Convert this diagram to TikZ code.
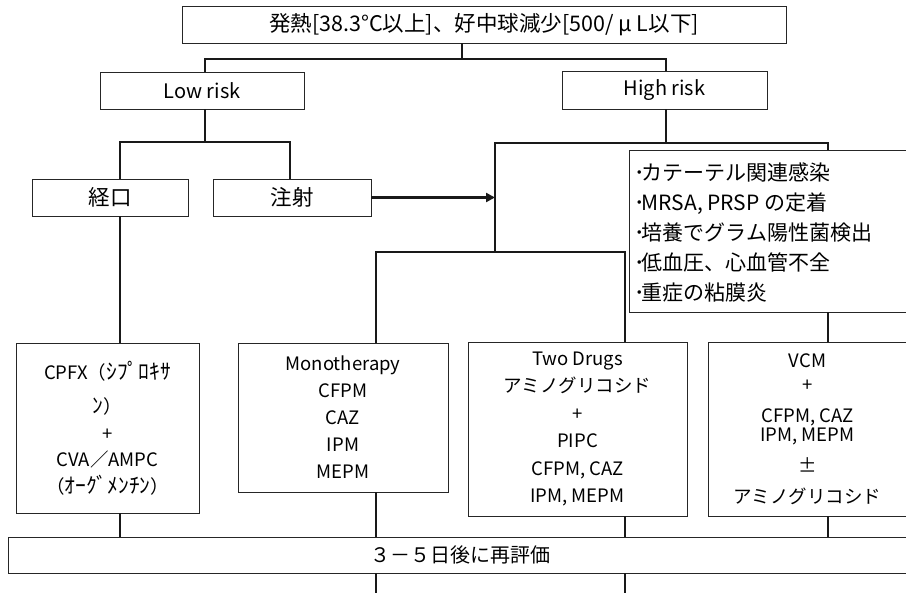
\documentclass[tikz,border=0pt]{standalone}
\usepackage{fontspec}
\setmainfont{Noto Sans CJK JP}
\usetikzlibrary{arrows.meta}
\newcommand{\hkana}[1]{{\fontsize{21.5}{26}\selectfont #1}}
\begin{document}
\begin{tikzpicture}[x=1pt,y=-1pt,
  box/.style={draw=black!85,line width=0.9pt,fill=white,inner sep=0pt,align=center},
  conn/.style={line width=2.8pt,black!90},
  arr/.style={line width=3pt,black!90,-{Triangle[length=9pt,width=9pt]}},
  big/.style={font=\fontsize{21.5}{26}\selectfont},
  mid/.style={font=\fontsize{20}{26}\selectfont},
  small/.style={font=\fontsize{18.5}{26.5}\selectfont}]
\useasboundingbox (0,0) rectangle (906,593);
% boxes
\node[box,big,minimum width=604pt,minimum height=37pt] (top) at (484,24.5) {発熱[38.3°C以上]、好中球減少[500/ μ L以下]};
\node[box,mid,minimum width=204pt,minimum height=37pt] (low) at (202,90.5) {Low risk};
\node[box,mid,minimum width=205pt,minimum height=38pt] (high) at (664.5,90) {High risk};
\node[box,big,minimum width=156pt,minimum height=37pt] (oral) at (110,197.5) {経口};
\node[box,big,minimum width=158pt,minimum height=37pt] (inj) at (292,197.5) {注射};
\node[box,minimum width=280pt,minimum height=162pt] (info) at (769,231) {};
\node[anchor=west,align=left,inner sep=0pt,font=\fontsize{21}{30}\selectfont] (infotext) at (634,232)
 {･\kern-3pt カテーテル関連感染\\･\kern-3pt MRSA, PRSP の定着\\･\kern-3pt 培養でグラム陽性菌検出\\･\kern-3pt 低血圧、心血管不全\\･\kern-3pt 重症の粘膜炎};
\node[box,small,minimum width=183pt,minimum height=170pt] (cpfx) at (107.5,428)
 {CPFX（\hkana{ｼﾌﾟﾛｷｻ}\\[8pt]\hkana{ﾝ}）\\+\\CVA／AMPC\\（\hkana{ｵｰｸﾞﾒﾝﾁﾝ}）};
\node[box,small,minimum width=210pt,minimum height=149pt,font=\fontsize{18.5}{27}\selectfont] (mono) at (343,417.5)
 {Monotherapy\\CFPM\\CAZ\\IPM\\MEPM};
\node[box,small,minimum width=219pt,minimum height=174pt,font=\fontsize{18.5}{27.5}\selectfont] (two) at (577.5,429)
 {Two Drugs\\アミノグリコシド\\+\\PIPC\\CFPM, CAZ\\IPM, MEPM};
\node[box,small,minimum width=199pt,minimum height=174pt] (vcm) at (807.5,429)
 {VCM\\[-3pt]+\\[5pt]CFPM, CAZ\\[-8pt]IPM, MEPM\\[5pt]±\\[4pt]アミノグリコシド};
\node[box,minimum width=900pt,minimum height=36pt] (reeval) at (458,555) {};
\node[mid,inner sep=0pt] (reevaltext) at (460,555) {３－５日後に再評価};
% junctions
\coordinate (j1) at (462,59);
\coordinate (j1l) at (205,59);
\coordinate (j1r) at (666,59);
\coordinate (j2) at (205,142);
\coordinate (j2l) at (120,142);
\coordinate (j2r) at (290,142);
\coordinate (j3) at (666,143);
\coordinate (j3r) at (828,143);
\coordinate (j4) at (495,252);
\coordinate (j5l) at (376,252);
\coordinate (j5r) at (625,252);
\coordinate (e1) at (376,593);
\coordinate (e2) at (625,593);
% connectors
\draw[conn] (top.south -| j1) -- (j1);
\draw[conn] (low.north -| j1l) |- (j1r) -- (high.north -| j1r);
\draw[conn] (low.south -| j2) -- (j2);
\draw[conn] (oral.north -| j2l) |- (j2r) -- (inj.north -| j2r);
\draw[conn] (high.south -| j3) -- (j3);
\draw[conn] (j4) |- (j3r) -- (info.north -| j3r);
\draw[conn] (mono.north -| j5l) |- (j5r) -- (two.north -| j5r);
\draw[conn] (info.south -| j3r) -- (vcm.north -| j3r);
\draw[arr] (inj.east) -- (inj.east -| j4);
\draw[conn] (oral.south -| j2l) -- (cpfx.north -| j2l);
\draw[conn] (cpfx.south -| j2l) -- (reeval.north -| j2l);
\draw[conn] (mono.south -| j5l) -- (reeval.north -| j5l);
\draw[conn] (two.south -| j5r) -- (reeval.north -| j5r);
\draw[conn] (vcm.south -| j3r) -- (reeval.north -| j3r);
\draw[conn] (reeval.south -| j5l) -- (e1);
\draw[conn] (reeval.south -| j5r) -- (e2);
\end{tikzpicture}
\end{document}
